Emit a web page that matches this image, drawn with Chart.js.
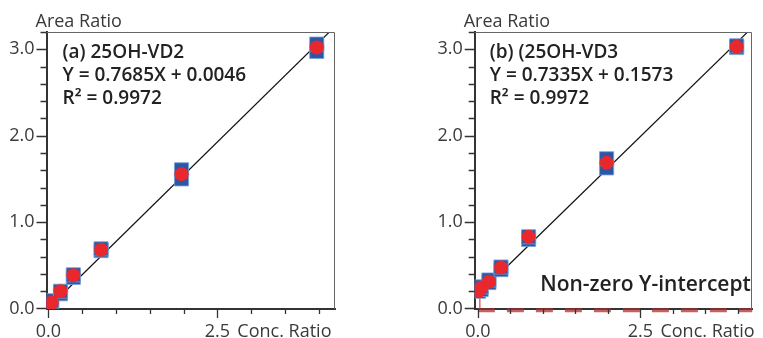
<!DOCTYPE html>
<html>
<head>
<meta charset="utf-8">
<script src="https://cdn.jsdelivr.net/npm/chart.js@4.4.1/dist/chart.umd.min.js"></script>
<style>
  html, body { margin: 0; padding: 0; background: #fff; }
  #wrap { display: flex; width: 763px; height: 338px; }
  canvas { display: block; }
</style>
</head>
<body>
<div id="wrap">
  <canvas id="chartA" width="382" height="338"></canvas>
  <canvas id="chartB" width="381" height="338"></canvas>
</div>
<script>
// ============================================
// Data
// ============================================

// Axis ticks (minor every 0.2 / 0.5, labels only on majors)
const Y_TICK_VALUES = [0, 0.2, 0.4, 0.6, 0.8, 1, 1.2, 1.4, 1.6, 1.8, 2, 2.2, 2.4, 2.6, 2.8, 3, 3.2];
const Y_MAJOR = [0, 1, 2, 3];
const Y_LABELS = ['0.0', '1.0', '2.0', '3.0'];
const X_TICK_VALUES = [0, 0.5, 1, 1.5, 2, 2.5, 3, 3.5, 4];
const X_MAJOR = [0, 2.5];
const X_LABELS = ['0.0', '2.5'];

// (a) 25OH-VD2 : mean points (red) and replicates (blue)
const A_MEAN_X = [0.01, 0.05, 0.18, 0.37, 0.78, 1.97, 3.97];
const A_MEAN_Y = [0.03, 0.07, 0.2, 0.385, 0.68, 1.555, 3.02];
const A_REP_X = [0.01, 0.01, 0.05, 0.05, 0.18, 0.18, 0.37, 0.37, 0.78, 0.78, 1.97, 1.97, 3.97, 3.97];
const A_REP_Y = [0.02, 0.05, 0.06, 0.09, 0.17, 0.2, 0.36, 0.39, 0.67, 0.69, 1.5, 1.605, 2.975, 3.06];
const A_FIT_X = [0, 4.17];
const A_FIT_Y = [0.005, 3.21];

// (b) 25OH-VD3
const B_MEAN_X = [0.01, 0.05, 0.17, 0.355, 0.78, 1.98, 3.98];
const B_MEAN_Y = [0.2, 0.24, 0.31, 0.473, 0.83, 1.687, 3.03];
const B_REP_X = [0.01, 0.01, 0.05, 0.05, 0.17, 0.17, 0.355, 0.355, 0.78, 0.78, 1.98, 1.98, 3.98, 3.98];
const B_REP_Y = [0.2, 0.22, 0.22, 0.25, 0.3, 0.33, 0.45, 0.48, 0.8, 0.83, 1.627, 1.733, 3.02, 3.04];
const B_FIT_X = [0.35, 4.17];
const B_FIT_Y = [0.414, 3.216];
const B_ZERO_X = [0, 4.22];     // dashed zero line
const B_ZERO_Y = [-0.02, -0.02];
const B_STEM_X = [0.03, 0.03];  // small red stem at the intercept
const B_STEM_Y = [0, 0.2];

const A_TEXT = ['(a) 25OH-VD2', 'Y = 0.7685X + 0.0046', 'R\u00B2 = 0.9972'];
const B_TEXT = ['(b) (25OH-VD3', 'Y = 0.7335X + 0.1573', 'R\u00B2 = 0.9972'];
const B_NOTE = 'Non-zero Y-intercept';
const Y_TITLE = 'Area Ratio';
const X_TITLE = 'Conc. Ratio';

// ============================================
// Styling
// ============================================
const FONT = '"Open Sans", "Noto Sans", sans-serif';
const TICK_SIZE = 18;
const X_PAD = 12;
const TEXT_COLOR = '#3a3a3a';
const RED = '#e8282c';
const BLUE = '#2b58a6';

const pts = (xs, ys) => xs.map((x, i) => ({ x: x, y: ys[i] }));

function labelFor(value, majors, labels) {
  const i = majors.findIndex((m) => Math.abs(m - value) < 1e-9);
  return i >= 0 ? labels[i] : '';
}

/**
 * Draws tick marks, top/right frame, axis titles and the annotation text
 */
function decorPlugin(opts) {
  return {
    id: 'decor',
    afterDraw(chart) {
      const ctx = chart.ctx;
      const a = chart.chartArea;
      const xs = chart.scales.x;
      const ys = chart.scales.y;
      ctx.save();

      // frame (top + right)
      ctx.strokeStyle = '#666';
      ctx.lineWidth = 1;
      ctx.beginPath();
      ctx.moveTo(a.left, a.top + 0.5);
      ctx.lineTo(a.right - 0.5, a.top + 0.5);
      ctx.lineTo(a.right - 0.5, a.bottom);
      ctx.stroke();

      // tick marks
      ctx.strokeStyle = '#333';
      ctx.lineWidth = 1.3;
      ctx.beginPath();
      Y_TICK_VALUES.forEach((v) => {
        const py = Math.round(ys.getPixelForValue(v)) + 0.5;
        const len = labelFor(v, Y_MAJOR, Y_LABELS) ? 10 : 6;
        ctx.moveTo(a.left - len, py);
        ctx.lineTo(a.left, py);
      });
      X_TICK_VALUES.forEach((v) => {
        const px = Math.round(xs.getPixelForValue(v)) + 0.5;
        const len = labelFor(v, X_MAJOR, X_LABELS) ? 9 : 5;
        ctx.moveTo(px, a.bottom);
        ctx.lineTo(px, a.bottom + len);
      });
      ctx.stroke();

      // axis titles
      ctx.fillStyle = TEXT_COLOR;
      ctx.font = TICK_SIZE + 'px ' + FONT;
      ctx.textAlign = 'left';
      ctx.textBaseline = 'middle';
      ctx.fillText(Y_TITLE, a.left - 11, 22);
      ctx.fillText(X_TITLE, xs.getPixelForValue(2.5) + 20, a.bottom + X_PAD + TICK_SIZE * 1.2 / 2);

      // annotation
      ctx.fillStyle = '#222';
      ctx.font = '600 19px ' + FONT;
      opts.lines.forEach((t, i) => {
        ctx.fillText(t, a.left + opts.textDx, 53 + i * 23);
      });
      if (opts.note) {
        ctx.font = '600 21px ' + FONT;
        ctx.textAlign = 'center';
        ctx.fillText(opts.note, opts.noteX, 285);
      }
      ctx.restore();
    },
  };
}

function makeChart(id, cfg) {
  const datasets = [
    {
      type: 'scatter',
      data: pts(cfg.meanX, cfg.meanY),
      pointStyle: 'circle',
      pointRadius: 7,
      pointBackgroundColor: RED,
      pointBorderWidth: 0,
      order: 0,
    },
    {
      type: 'scatter',
      data: pts(cfg.repX, cfg.repY),
      pointStyle: 'rect',
      pointRadius: 10,
      pointBackgroundColor: BLUE,
      pointBorderColor: 'rgba(120,160,215,0.8)',
      pointBorderWidth: 1,
      order: 1,
    },
    {
      type: 'line',
      data: pts(cfg.fitX, cfg.fitY),
      borderColor: '#111',
      borderWidth: 1.2,
      pointRadius: 0,
      order: 2,
    },
  ];
  if (cfg.stemX) {
    datasets.push({
      type: 'line',
      data: pts(cfg.stemX, cfg.stemY),
      borderColor: 'rgba(232,60,60,0.8)',
      borderWidth: 1.5,
      pointRadius: 0,
      order: 3,
    });
  }
  if (cfg.zeroX) {
    datasets.push({
      type: 'line',
      data: pts(cfg.zeroX, cfg.zeroY),
      borderColor: 'rgba(175,45,45,0.75)',
      borderWidth: 4,
      borderDash: [17, 12],
      pointRadius: 0,
      clip: false,
      order: 4,
    });
  }

  return new Chart(document.getElementById(id), {
    data: { datasets: datasets },
    options: {
      responsive: false,
      animation: false,
      events: [],
      layout: { padding: { top: 32, right: cfg.padRight, left: 0, bottom: 0 } },
      plugins: { legend: { display: false }, tooltip: { enabled: false } },
      scales: {
        x: {
          type: 'linear',
          min: cfg.xMin,
          max: cfg.xMax,
          afterFit: (s) => { s.height = 29; },
          afterBuildTicks: (s) => { s.ticks = X_TICK_VALUES.map((v) => ({ value: v })); },
          grid: { display: false, drawTicks: false },
          border: { display: true, color: '#333', width: 2 },
          ticks: {
            autoSkip: false,
            maxRotation: 0,
            padding: X_PAD,
            color: TEXT_COLOR,
            font: { family: FONT, size: TICK_SIZE },
            callback: (v) => labelFor(v, X_MAJOR, X_LABELS),
          },
        },
        y: {
          type: 'linear',
          min: -0.006,
          max: 3.2,
          afterFit: (s) => { s.width = cfg.yWidth; },
          afterBuildTicks: (s) => { s.ticks = Y_TICK_VALUES.map((v) => ({ value: v })); },
          grid: { display: false, drawTicks: false },
          border: { display: true, color: '#333', width: 2 },
          ticks: {
            autoSkip: false,
            padding: 12,
            color: TEXT_COLOR,
            font: { family: FONT, size: TICK_SIZE },
            callback: (v) => labelFor(v, Y_MAJOR, Y_LABELS),
          },
        },
      },
    },
    plugins: [decorPlugin(cfg.decor)],
  });
}

makeChart('chartA', {
  meanX: A_MEAN_X, meanY: A_MEAN_Y, repX: A_REP_X, repY: A_REP_Y,
  fitX: A_FIT_X, fitY: A_FIT_Y,
  xMin: -0.027, xMax: 4.24, yWidth: 46.5, padRight: 47,
  decor: { lines: A_TEXT, textDx: 16 },
});

makeChart('chartB', {
  meanX: B_MEAN_X, meanY: B_MEAN_Y, repX: B_REP_X, repY: B_REP_Y,
  fitX: B_FIT_X, fitY: B_FIT_Y,
  zeroX: B_ZERO_X, zeroY: B_ZERO_Y, stemX: B_STEM_X, stemY: B_STEM_Y,
  xMin: -0.049, xMax: 4.216, yWidth: 92.7, padRight: 0,
  decor: { lines: B_TEXT, textDx: 15, note: B_NOTE, noteX: 263.5 },
});
</script>
</body>
</html>
